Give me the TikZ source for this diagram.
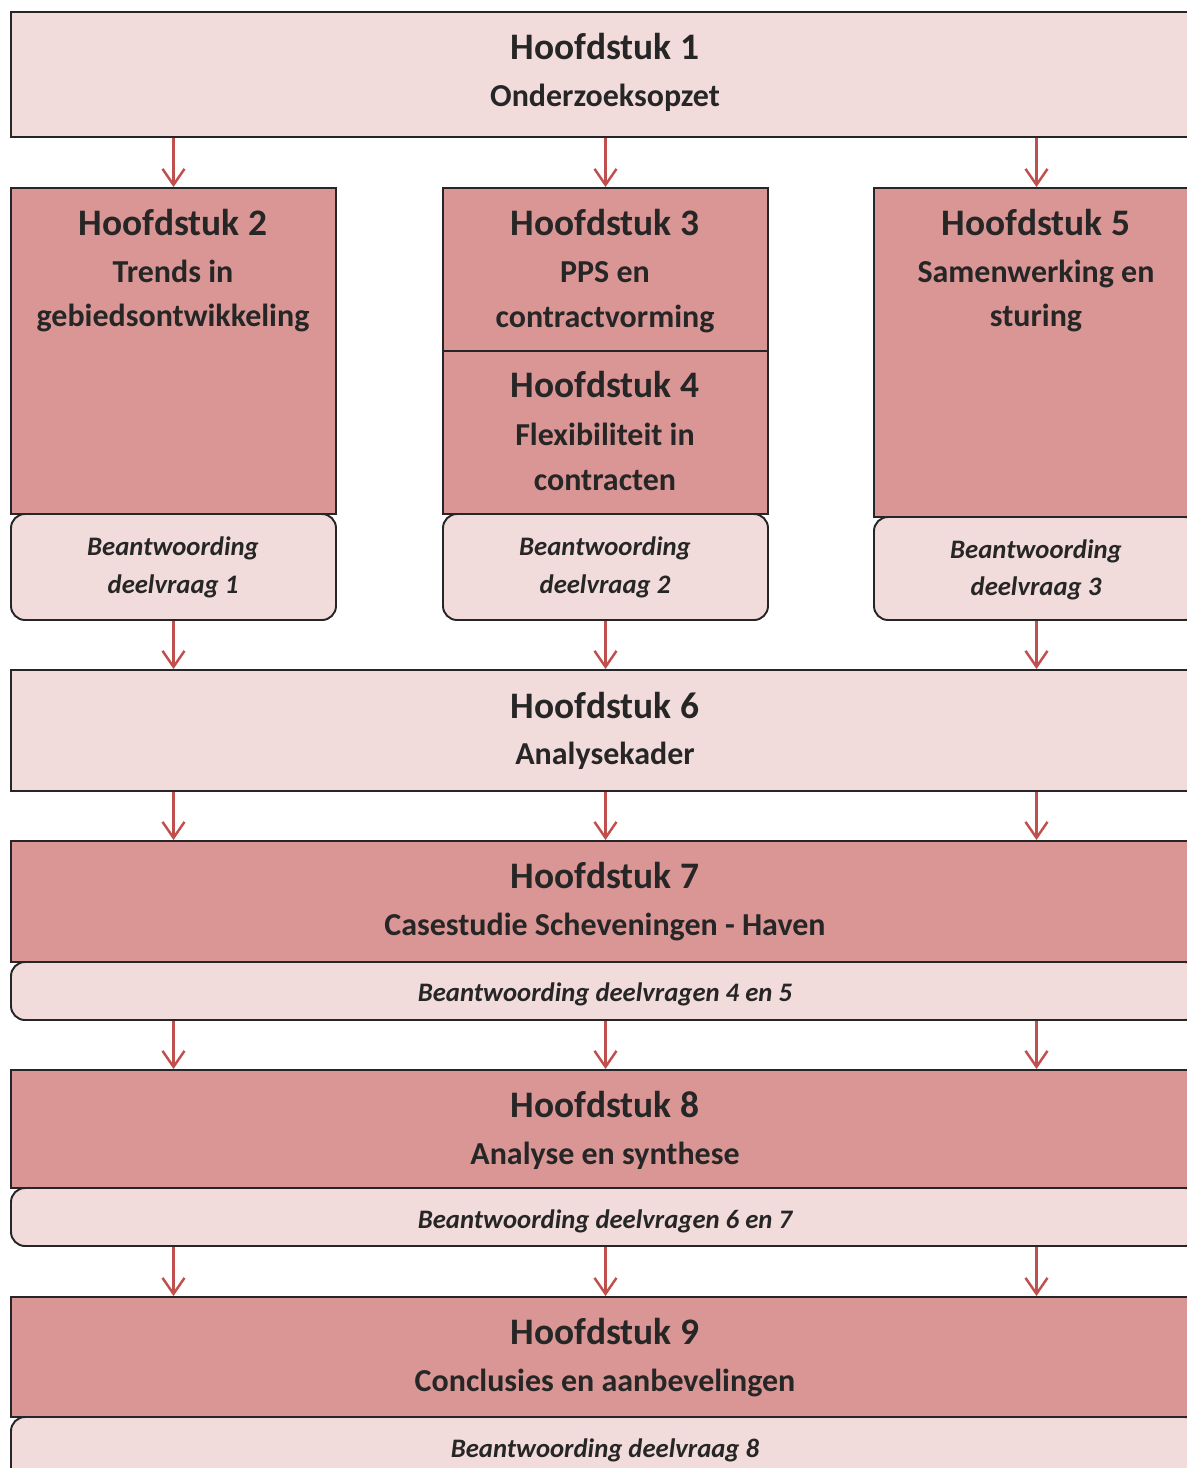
\documentclass[tikz,border=0pt]{standalone}
\usepackage{fontspec}
\setmainfont{Carlito}
\usetikzlibrary{arrows.meta,fit}
\definecolor{cLicht}{HTML}{F2DCDB}
\definecolor{cDonker}{HTML}{D99694}
\definecolor{cPijl}{HTML}{C0504D}
\definecolor{cRand}{HTML}{262626}
\tikzset{
  licht/.style={draw=cRand,line width=1.1pt,fill=cLicht,inner sep=0pt},
  donker/.style={draw=cRand,line width=1.1pt,fill=cDonker,inner sep=0pt},
  antw/.style={draw=cRand,line width=1.1pt,fill=cLicht,inner sep=0pt,rounded corners=8pt},
  kop/.style={anchor=base,font=\fontsize{21.3}{25}\selectfont\bfseries,text=cRand},
  sub/.style={anchor=base,font=\fontsize{18.2}{22}\selectfont\bfseries,text=cRand},
  ital/.style={anchor=base,font=\fontsize{15.2}{18}\selectfont\bfseries\itshape,text=cRand},
  pijl/.style={-{Straight Barb[length=3.2mm,width=4.4mm,line width=1.4pt]},line width=1.4pt,cPijl},
}
\begin{document}
\begin{tikzpicture}[x=0.02cm,y=-0.02cm]
  \useasboundingbox (0,0) rectangle (1187,1468);
  \clip (0,0) rectangle (1187,1468);
  % boxes
  \node[licht,fit={(11,12) (1199,137)}] (h1) {};
  \node[donker,fit={(11,188) (336,514)}] (h2) {};
  \node[donker,fit={(443,188) (768,351)}] (h3) {};
  \node[donker,fit={(443,351) (768,514)}] (h4) {};
  \node[donker,fit={(874,188) (1199,517)}] (h5) {};
  \node[antw,fit={(11,514) (336,620)}] (a1) {};
  \node[antw,fit={(443,514) (768,620)}] (a2) {};
  \node[antw,fit={(874,517) (1199,620)}] (a3) {};
  \node[licht,fit={(11,670) (1199,791)}] (h6) {};
  \node[donker,fit={(11,841) (1199,962)}] (h7) {};
  \node[antw,fit={(11,962) (1199,1020)}] (a7) {};
  \node[donker,fit={(11,1070) (1199,1188)}] (h8) {};
  \node[antw,fit={(11,1188) (1199,1246)}] (a8) {};
  \node[donker,fit={(11,1297) (1199,1417)}] (h9) {};
  \node[antw,fit={(11,1417) (1199,1485)}] (a9) {};
  % texts
  \node[kop] (t1) at (605,59) {Hoofdstuk 1};
  \node[sub] (s1) at (605,106) {Onderzoeksopzet};
  \node[kop] (t2) at (173,235) {Hoofdstuk 2};
  \node[sub] (s2a) at (173,282) {Trends in};
  \node[sub] (s2b) at (173,326) {gebiedsontwikkeling};
  \node[kop] (t3) at (605,235) {Hoofdstuk 3};
  \node[sub] (s3a) at (605,282) {PPS en};
  \node[sub] (s3b) at (605,327) {contractvorming};
  \node[kop] (t4) at (605,397) {Hoofdstuk 4};
  \node[sub] (s4a) at (605,445) {Flexibiliteit in};
  \node[sub] (s4b) at (605,490) {contracten};
  \node[kop] (t5) at (1036,235) {Hoofdstuk 5};
  \node[sub] (s5a) at (1036,282) {Samenwerking en};
  \node[sub] (s5b) at (1036,326) {sturing};
  \node[ital] (b1a) at (173,555) {Beantwoording};
  \node[ital] (b1b) at (173,593) {deelvraag 1};
  \node[ital] (b2a) at (605,555) {Beantwoording};
  \node[ital] (b2b) at (605,593) {deelvraag 2};
  \node[ital] (b3a) at (1036,558) {Beantwoording};
  \node[ital] (b3b) at (1036,595) {deelvraag 3};
  \node[kop] (t6) at (605,718) {Hoofdstuk 6};
  \node[sub] (s6) at (605,764) {Analysekader};
  \node[kop] (t7) at (605,888) {Hoofdstuk 7};
  \node[sub] (s7) at (605,935) {Casestudie Scheveningen - Haven};
  \node[ital] (b7) at (605,1001) {Beantwoording deelvragen 4 en 5};
  \node[kop] (t8) at (605,1117) {Hoofdstuk 8};
  \node[sub] (s8) at (605,1164) {Analyse en synthese};
  \node[ital] (b8) at (605,1228) {Beantwoording deelvragen 6 en 7};
  \node[kop] (t9) at (605,1344) {Hoofdstuk 9};
  \node[sub] (s9) at (605,1391) {Conclusies en aanbevelingen};
  \node[ital] (b9) at (605,1457) {Beantwoording deelvraag 8};
  % arrows
  \foreach \k in {h2,h3,h5}{\draw[pijl] (h1.south -| \k) -- (\k.north);}
  \foreach \k in {a1,a2,a3}{\draw[pijl] (\k.south) -- (h6.north -| \k);}
  \foreach \van/\naar in {h6/h7,a7/h8,a8/h9}{
    \foreach \k in {a1,a2,a3}{\draw[pijl] (\van.south -| \k) -- (\naar.north -| \k);}
  }
\end{tikzpicture}
\end{document}
